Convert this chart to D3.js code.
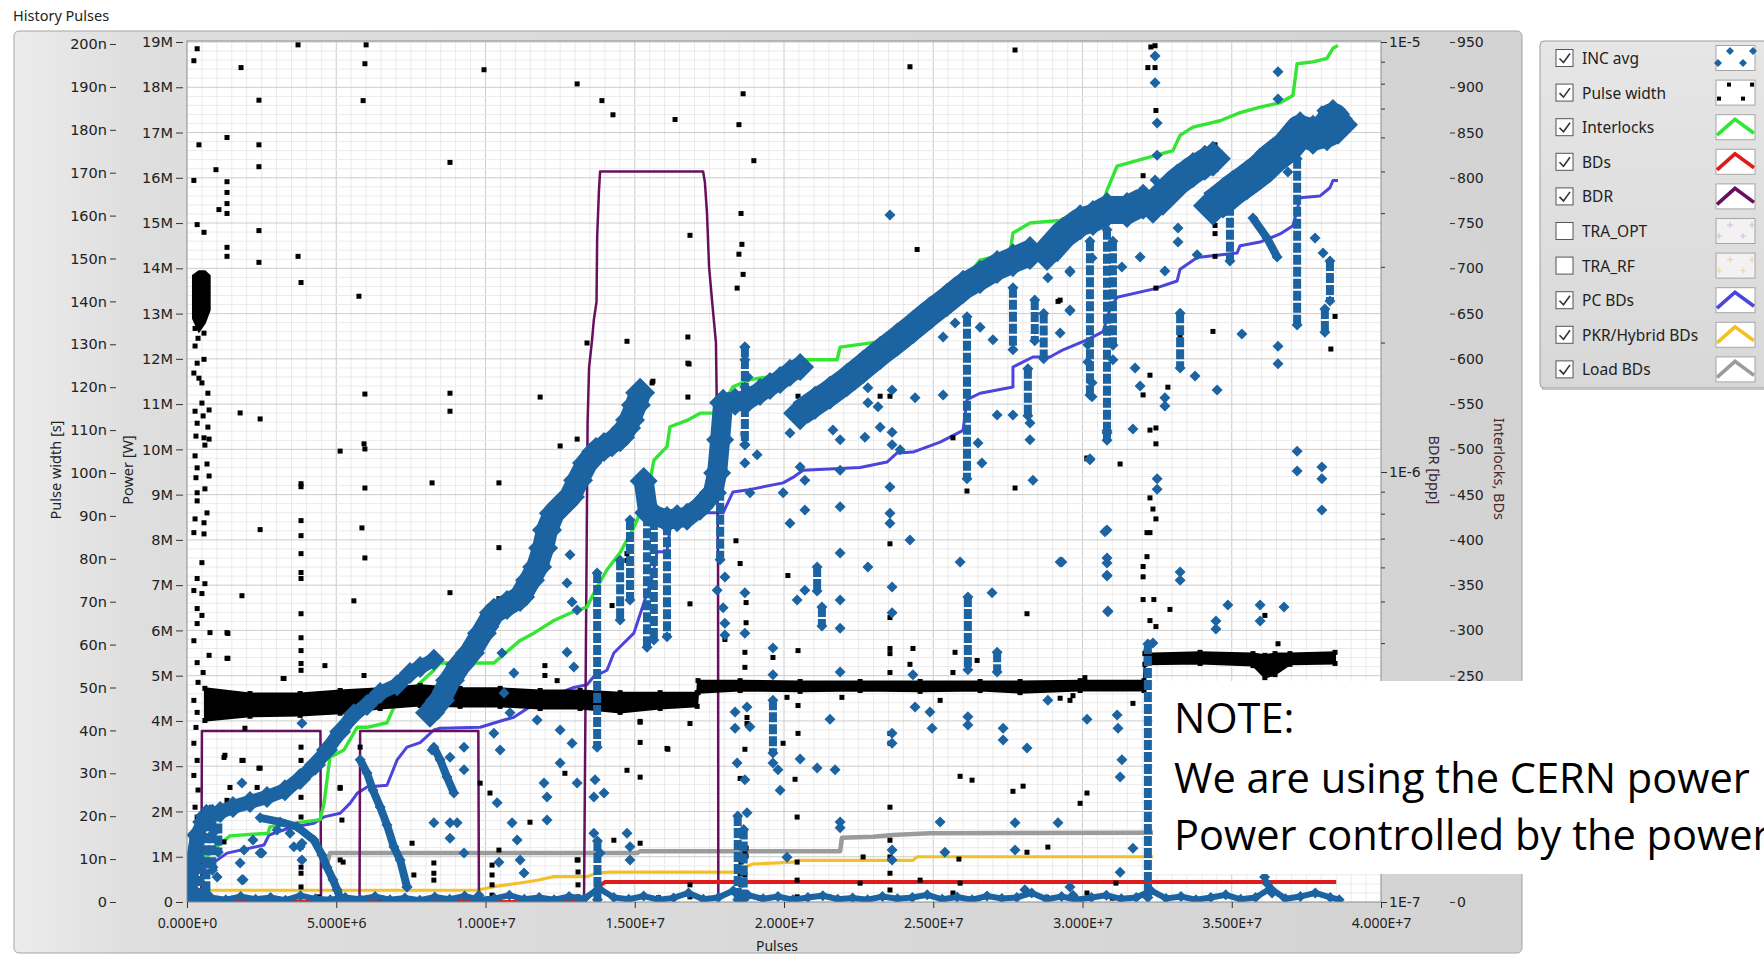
<!DOCTYPE html>
<html>
<head>
<meta charset="utf-8">
<title>History Pulses</title>
<script src="https://cdn.jsdelivr.net/npm/d3@7"></script>
<style>
  body { margin: 0; background: #fff; overflow: hidden; }
  svg { display: block; }
</style>
</head>
<body>
<script>
// pulses are in millions, power in MW, pulse width in ns

const pulseTicks = [0, 5, 10, 15, 20, 25, 30, 35, 40];
const powerTicks = [0, 1, 2, 3, 4, 5, 6, 7, 8, 9, 10, 11, 12, 13, 14, 15, 16, 17, 18, 19];
const pulseWidthTicks = [0, 10, 20, 30, 40, 50, 60, 70, 80, 90, 100, 110, 120, 130, 140, 150, 160, 170, 180, 190, 200];
const countTicks = [0, 50, 100, 150, 200, 250, 300, 350, 400, 450, 500, 550, 600, 650, 700, 750, 800, 850, 900, 950];
const bdrTicks = [1e-7, 1e-6, 1e-5];
const bdrMinorTicks = [2e-7, 3e-7, 4e-7, 5e-7, 6e-7, 7e-7, 8e-7, 9e-7, 2e-6, 3e-6, 4e-6, 5e-6, 6e-6, 7e-6, 8e-6, 9e-6];

const legendNames = ['INC avg', 'Pulse width', 'Interlocks', 'BDs', 'BDR', 'TRA_OPT', 'TRA_RF', 'PC BDs', 'PKR/Hybrid BDs', 'Load BDs'];
const legendChecked = [true, true, true, true, true, false, false, true, true, true];

const noteLines = ['NOTE:', 'We are using the CERN power', 'Power controlled by the power'];

// step lines (counts on the Interlocks, BDs axis)
const interlocks = [[0.5,45],[1.0,61],[1.44,73],[2.71,76],[2.78,83],[3.79,88],[4.46,91],[4.59,109],[4.79,160],[5.26,168],[5.70,193],[6.03,193],[6.70,198],[6.93,215],[8.27,256],[8.48,264],[10.28,264],[11.16,289],[11.62,297],[12.29,311],[12.83,319],[13.40,326],[13.74,348],[14.07,367],[14.51,386],[14.97,414],[15.41,447],[15.64,488],[16.08,503],[16.18,525],[16.75,532],[17.19,540],[17.86,540],[18.02,554],[18.29,569],[18.86,577],[19.87,582],[20.54,599],[21.78,599],[21.88,613],[23.22,619],[23.79,635],[24.56,657],[25.80,662],[26.23,695],[26.57,709],[27.57,717],[27.67,739],[28.24,750],[29.25,753],[30.69,773],[30.82,786],[31.16,813],[32.03,821],[33.03,830],[33.27,847],[33.70,856],[34.61,863],[35.28,872],[35.95,878],[36.62,883],[37.05,891],[37.19,926],[37.72,928],[38.19,932],[38.39,943],[38.56,946]];
const bds = [[0,0],[13.29,0],[13.70,15],[14.00,22],[38.50,22]];
const pcBds = [[0.5,35],[1.0,46],[1.34,54],[2.58,63],[2.75,74],[3.45,82],[4.25,87],[4.59,94],[5.13,98],[5.46,109],[5.70,120],[6.03,127],[6.70,129],[7.04,157],[7.37,171],[7.81,176],[8.27,190],[8.48,192],[9.82,193],[10.62,201],[10.95,204],[11.83,223],[12.96,237],[13.40,240],[13.63,249],[14.07,256],[14.30,275],[14.51,282],[14.97,297],[15.08,308],[15.60,360],[15.75,387],[16.08,387],[16.25,430],[17.96,430],[18.29,453],[18.76,455],[19.97,463],[20.30,469],[20.64,477],[22.55,480],[23.45,486],[23.79,496],[24.32,497],[25.23,508],[26.00,521],[26.13,555],[26.57,562],[27.67,569],[27.67,591],[28.34,602],[28.91,602],[29.35,610],[30.15,621],[30.69,630],[30.92,655],[31.16,668],[32.36,677],[33.17,686],[33.27,699],[33.84,712],[35.18,717],[35.28,725],[35.95,729],[36.62,738],[37.05,747],[37.19,764],[37.29,778],[37.96,780],[38.29,789],[38.39,797],[38.56,797]];
const pkrBds = [[0.67,13],[9.72,13],[10.28,17],[11.16,21],[11.73,24],[12.29,28],[13.40,28],[13.74,32],[14.17,33],[18.43,33],[18.63,38],[18.96,42],[20.30,44],[20.44,46],[24.32,46],[24.46,50],[38.60,50]];
const loadBds = [[4.69,43],[4.79,54],[15.08,54],[15.18,56],[21.88,56],[21.94,71],[22.98,72],[23.65,74],[24.89,76],[38.60,77]];

// breakdown rate (bpp), 0 = no breakdowns in window
const bdr = [[0,0],[0.48,0],[0.50,2.5e-7],[4.47,2.5e-7],[4.49,0],[5.78,0],[5.80,2.5e-7],[9.76,2.5e-7],[9.78,0],[13.30,0],[13.42,1.3e-6],[13.47,1.75e-6],[13.57,2.03e-6],[13.63,2.26e-6],[13.72,2.49e-6],[13.74,3.5e-6],[13.80,4.5e-6],[13.84,5.0e-6],[17.29,5.0e-6],[17.35,4.72e-6],[17.42,4.0e-6],[17.49,3.0e-6],[17.59,2.5e-6],[17.72,2.0e-6],[17.76,1.25e-6],[17.79,6.2e-7],[17.80,0]];

// INC avg: dense runs of points (MW)
const incRunA = [[0.10,0.15],[0.20,0.93],[0.34,1.48],[0.54,1.77],[0.77,1.92],[1.11,1.99],[1.54,2.10],[2.11,2.21],[2.68,2.32],[3.28,2.47],[3.79,2.72],[4.29,3.03],[4.69,3.36],[5.13,3.76],[5.59,4.15],[6.03,4.35],[6.47,4.62],[7.04,4.79],[7.47,5.06],[7.81,5.19],[8.27,5.35]];
const incRunB = [[8.14,4.18],[8.48,4.46],[8.81,4.90],[9.15,5.24],[9.48,5.50],[9.88,5.94],[10.28,6.39],[10.72,6.56],[11.16,6.74],[11.49,7.11],[11.73,7.40],[11.93,7.82],[12.06,8.22],[12.29,8.59],[12.56,8.77],[12.83,8.95],[13.10,9.32],[13.40,9.70],[13.70,9.94],[13.97,10.05],[14.24,10.16],[14.51,10.27],[14.71,10.47],[14.84,10.65],[15.04,10.98],[15.18,11.25]];
const incRunC = [[15.30,9.30],[15.45,8.60],[15.64,8.55],[16.08,8.44],[16.42,8.48],[16.75,8.51],[17.19,8.73],[17.62,9.04],[17.76,9.48],[17.86,10.21],[17.96,11.03],[18.36,11.05],[18.76,11.09],[19.20,11.27],[19.53,11.40],[19.87,11.53],[20.20,11.69],[20.54,11.82]];
const incRunD = [[20.54,10.80],[21.04,11.03],[21.54,11.25],[22.11,11.53],[22.65,11.82],[23.22,12.13],[23.79,12.42],[24.32,12.70],[24.89,13.01],[25.46,13.30],[26.00,13.59],[26.57,13.81],[27.14,14.03],[27.67,14.18],[28.24,14.34]];
const incRunE = [[28.81,14.34],[29.35,14.74],[29.92,15.02],[30.35,15.11],[30.82,15.29],[31.49,15.29],[32.03,15.47]];
const incRunF = [[32.36,15.38],[32.76,15.64],[33.17,15.91],[33.70,16.17],[34.10,16.33],[34.37,16.42]];
const incRunG = [[34.37,15.38],[34.71,15.55],[35.04,15.73],[35.51,15.95],[35.95,16.17],[36.38,16.44],[36.85,16.68],[37.29,17.03],[37.72,16.95],[38.19,17.03],[38.39,17.30],[38.56,17.17]];
const incStreaks = [
  [[2.45,1.86],[3.12,1.77],[3.69,1.66],[4.25,1.37],[4.52,1.04],[4.69,0.77],[4.89,0.49],[5.03,0.27],[5.13,0.09]],
  [[5.80,3.14],[6.03,2.85],[6.23,2.47],[6.47,2.10],[6.70,1.70],[6.93,1.22],[7.14,0.93],[7.37,0.33]],
  [[8.27,3.42],[8.48,3.14],[8.71,2.76],[8.94,2.41]],
  [[35.71,15.11],[36.18,14.67],[36.52,14.25]]
];
// INC avg: vertical columns [pulses, top MW, bottom MW]
const incColumns = [[0.10,0.8,0.0],[0.25,1.4,0.0],[0.45,1.9,0.0],[0.65,2.05,0.2],[0.85,2.05,0.7],[1.05,2.0,1.1],
  [13.74,7.27,3.42],[14.51,7.55,6.23],[14.84,8.44,6.67],[15.41,9.32,5.63],[15.64,8.44,5.79],[16.08,8.59,5.86],[13.75,1.35,0.05],
  [17.86,10.94,7.56],[18.45,1.9,0.05],[18.65,1.6,0.05],[18.69,12.26,10.10],[19.63,4.46,3.29],[21.11,7.40,6.87],[21.27,6.52,6.10],
  [26.13,12.93,9.35],[26.16,6.74,5.13],[27.14,5.52,5.08],[27.67,13.57,12.20],[28.17,11.78,10.74],[28.40,13.30,12.40],[28.70,13.00,12.00],
  [30.25,14.60,11.20],[30.82,14.85,10.20],[31.02,14.60,12.30],[32.19,5.70,0.10],[33.27,13.01,11.80],[34.94,15.38,14.16],[37.19,16.42,12.75],[38.12,13.10,12.59],[38.29,14.16,13.28]];
// INC avg: isolated points
const incPoints = [[12.83,7.67],[12.73,7.05],[12.90,6.63],[13.07,6.45],[12.73,5.52],[12.96,5.19],[12.50,3.80],[12.90,3.51],[12.50,3.07],[13.07,2.63],[13.67,2.70],[13.63,2.32],[13.97,2.41],[13.63,1.52],[13.84,1.08],[14.74,1.52],[14.84,1.22],[14.84,0.93],
  [8.21,3.36],[8.81,3.20],[9.28,3.42],[9.28,2.92],[8.81,1.75],[9.05,1.75],[8.81,1.41],[9.28,1.08],[8.27,1.75],
  [10.28,3.73],[10.49,3.36],[10.39,2.19],[10.89,1.75],[11.06,1.37],[11.16,0.93],[11.29,0.64],[10.45,0.88],[11.96,2.63],[12.06,2.32],[12.06,1.81],
  [1.91,1.15],[1.78,0.86],[1.84,0.49],[2.51,1.08],[3.58,1.22],[3.85,1.30],[3.85,0.93],[7.37,0.33],[9.78,0.15],
  [10.45,6.45],[10.28,6.08],[10.55,5.50],[10.95,5.06],[10.62,4.62],[10.82,4.18],[11.73,4.02],
  [1.84,2.63],[3.85,3.95],[0.87,1.52],[2.21,1.37],[2.45,1.08],[1.88,0.49],[0.87,0.77],[1.01,0.55],[3.45,1.52],[3.79,1.22],[3.02,1.59],
  [18.69,12.26],[18.69,11.98],[18.69,11.38],[18.79,11.60],[19.10,9.88],[18.69,9.70],[18.69,10.10],[18.86,9.04],[20.20,10.36],[20.54,9.61],[20.70,9.32],[20.70,8.66],[20.20,8.37],[19.97,9.04],[21.64,10.43],[21.88,10.21],[21.88,9.54],[21.88,8.73],[21.88,7.71],[22.81,11.36],[22.81,11.03],[23.15,10.94],[22.71,10.27],[23.22,10.49],[23.62,10.38],[23.62,10.10],[23.89,9.99],[23.55,9.17],[23.55,8.59],[23.55,8.37],[24.39,11.14],[25.33,11.20],[24.22,8.00],[23.62,11.31],[25.73,12.79],[25.33,12.48],[23.55,15.18],
  [26.57,12.70],[27.00,12.42],[27.14,10.76],[27.67,10.76],[26.50,10.14],[26.63,9.70],[28.34,9.32],[28.24,10.58],[28.24,10.21],
  [28.84,13.79],[29.58,13.92],[30.32,14.23],[29.58,13.08],[30.18,12.31],[30.18,11.93],[30.32,11.47],[30.32,11.16],[30.82,10.36],[30.25,9.77],[30.75,8.18],[29.25,12.57],[31.02,11.98],[31.32,14.03],
  [32.43,18.69],[32.43,18.10],[32.50,17.21],[32.50,16.50],[32.43,15.95],[36.55,18.34],[36.55,17.74],[38.02,17.48],[35.95,16.55],[36.88,16.13],[37.79,14.67],[38.06,14.34],[29.58,13.94],[29.58,13.06],[31.93,14.25],[32.76,13.94],[33.84,14.30],[33.20,14.89],[33.20,14.58],[35.34,12.55],[36.55,12.28],[36.55,11.89],[31.76,11.80],[31.93,11.40],[32.76,11.14],[32.76,10.96],[33.77,11.62],[34.51,11.31],[30.82,10.41],[31.69,10.45],[30.25,9.79],[32.50,9.35],[32.50,9.12],[37.19,9.96],[37.19,9.52],[38.02,9.61],[38.02,9.35],[38.02,8.66],[30.82,8.22],[30.82,7.60],[30.82,7.20],[29.31,7.51],[33.27,7.29],[33.27,7.11],[30.85,6.43],[34.87,6.56],[35.95,6.56],[35.95,6.21],[36.75,6.52],[34.47,6.21],[34.47,6.03],[32.36,5.72],
  [18.02,7.18],[17.76,6.89],[17.96,6.50],[18.02,6.16],[18.02,5.90],[18.69,6.83],[18.69,5.94],[19.63,5.61],[19.63,5.02],[18.43,3.07],[18.69,2.70],[18.76,1.97],[18.36,4.20],[18.36,3.84],[18.76,4.31],[18.86,3.87],[19.87,2.47],[19.63,3.07],[19.80,2.92],[20.10,0.99],[20.44,6.67],[20.70,6.89],[21.88,6.67],[21.88,6.05],[21.88,5.08],[21.54,4.04],[20.54,3.16],[21.11,2.96],[21.71,2.92],[21.88,1.77],[21.88,1.64],[22.81,7.40],[23.62,6.96],[23.62,6.39],[23.62,3.73],[23.62,3.51],[23.62,1.15],[23.62,0.93],[24.32,5.02],[24.39,4.31],[24.89,4.20],[24.96,3.84],[25.23,1.77],[25.39,1.10],[25.90,7.51],[26.16,4.09],[26.16,3.91],[26.97,6.83],[27.34,3.84],[27.34,3.58],[28.14,3.40],[27.74,1.75],[27.74,1.15],[28.84,4.46],[29.18,1.75],[29.25,7.51],[30.15,4.04],[30.82,7.49],[30.82,7.22],[30.85,6.41],[31.16,4.13],[31.19,3.84],[31.32,3.14],[31.26,2.76],[31.26,0.66],[31.69,1.19],[29.58,0.33],[29.68,0.15],[28.07,0.27],
  [36.10,0.55],[36.20,0.40],[36.35,0.20]];
// INC avg: floor row near zero power
const incFloor = [[0.3,0.05],[0.8,0.10],[1.3,0.05],[1.8,0.12],[2.3,0.06],[2.8,0.10],[3.3,0.04],[3.8,0.14],[4.3,0.07],[4.8,0.05],[5.3,0.10],[5.8,0.06],[6.3,0.12],[6.8,0.05],[7.3,0.09],[7.8,0.04],[8.3,0.11],[8.8,0.06],[9.3,0.13],[9.8,0.05],[10.3,0.08],[10.8,0.15],[11.3,0.06],[11.8,0.10],[12.3,0.05],[12.8,0.12],[13.3,0.07],[13.8,0.30],[14.3,0.10],[14.8,0.06],[15.3,0.13],[15.8,0.05],[16.3,0.09],[16.8,0.20],[17.3,0.06],[17.8,0.10],[18.3,0.25],[18.8,0.15],[19.3,0.07],[19.8,0.12],[20.3,0.05],[20.8,0.10],[21.3,0.14],[21.8,0.06],[22.3,0.09],[22.8,0.05],[23.3,0.12],[23.8,0.07],[24.3,0.10],[24.8,0.16],[25.3,0.06],[25.8,0.11],[26.3,0.05],[26.8,0.13],[27.3,0.08],[27.8,0.10],[28.3,0.20],[28.8,0.06],[29.3,0.12],[29.8,0.05],[30.3,0.10],[30.8,0.15],[31.3,0.07],[31.8,0.10],[32.3,0.25],[32.8,0.08],[33.3,0.12],[33.8,0.05],[34.3,0.10],[34.8,0.16],[35.3,0.06],[35.8,0.10],[36.3,0.30],[36.8,0.07],[37.3,0.12],[37.8,0.20],[38.3,0.10],[38.6,0.05]];

// Pulse width: dense band [pulses, low ns, high ns]
const pulseWidthBand = [[0.60,42.3,49.8],[2.11,43.3,48.6],[3.79,43.5,48.6],[5.13,44.0,49.3],[6.47,45.1,49.8],[7.81,45.8,50.5],[9.15,45.6,49.8],[10.49,45.6,49.8],[11.83,45.1,49.3],[13.17,45.1,49.3],[14.51,44.2,48.8],[15.85,45.1,48.8],[17.09,45.6,48.8],[17.12,48.8,51.6],[18.53,49.3,51.6],[20.54,49.1,51.4],[22.55,49.3,51.4],[24.56,49.1,51.4],[26.57,49.3,51.4],[27.91,48.8,51.4],[29.92,49.3,51.6],[32.06,49.3,51.6],[32.09,55.4,57.9],[33.94,55.6,58.2],[35.71,55.1,57.9],[36.11,52.3,57.5],[36.45,53.0,57.9],[36.95,55.4,57.9],[38.46,55.6,58.2]];
const pulseWidthCluster = [[0.20,136,146],[0.40,133,147],[0.60,135,147],[0.76,138,146]];
// Pulse width: isolated points [pulses, ns]
const pulseWidthPoints = [
  [0.34,198.9],[0.23,196.1],[1.81,194.5],[6.00,199.8],[2.41,186.9],[5.96,195.4],[1.34,178.2],[0.40,176.5],[2.41,176.5],[0.97,170.7],[2.41,171.4],[0.23,168.2],[1.34,167.9],[1.34,165.4],[1.07,161.4],[1.34,162.8],[1.34,160.5],[0.34,157.9],[0.57,156.1],[2.41,156.5],[1.34,152.6],[1.34,150.5],[3.72,150.5],[2.41,149.1],[3.82,144.4],[5.76,141.2],
  [3.72,199.8],[5.90,186.8],[9.95,194.0],[13.07,190.7],[13.90,186.8],[14.27,183.5],[16.35,182.4],[8.81,172.4],[18.63,188.4],[18.49,181.2],[18.99,172.8],[24.22,194.7],[27.74,198.6],[32.29,199.3],[16.85,155.4],[18.56,160.5],[18.59,153.3],[18.49,151.0],[18.63,146.3],[18.43,143.1],[24.46,152.1],[16.78,131.7],[16.78,125.6],[16.78,117.7],[18.63,109.1],[20.47,117.9],[23.22,117.9],[23.55,117.9],[25.66,108.2],[29.18,140.0],[26.13,95.8],[27.74,96.5],[30.15,103.3],[31.26,102.1],[23.55,83.5],[18.39,84.2],[11.83,117.7],[13.40,130.3],[14.74,130.7],[15.61,121.4],[16.82,125.4],
  [5.96,118.4],[8.81,118.6],[8.81,114.4],[15.58,121.0],[1.78,114.0],[2.45,112.6],[5.13,105.1],[5.93,106.8],[5.96,105.6],[12.50,106.3],[13.07,107.9],[8.21,97.7],[10.45,97.7],[5.96,96.5],[5.86,87.2],[2.45,86.8],[5.96,80.2],[10.45,82.6],[1.84,71.4],[5.59,70.2],[8.81,72.1],[1.34,62.8],[1.34,56.8],[4.62,55.1],[3.25,52.1],[5.93,52.8],[14.74,81.2],[14.74,79.6],[14.24,69.1],[10.45,70.7],[12.40,51.6],[16.08,35.8],[15.18,37.2],[15.18,41.9],[14.74,30.7],[14.30,14.4],[15.18,13.7],[13.07,9.8],[10.45,12.1],[12.66,30.0],[11.49,18.6],[9.82,27.7],[10.15,25.4],[5.13,9.8],[5.13,26.7],[5.19,19.1],[5.80,36.1],[7.54,13.7],[7.60,6.3],[1.24,33.7],[1.84,33.0],[2.41,31.2],[1.44,26.7],[2.35,26.7],[1.34,23.7],[1.24,14.0],[1.94,40.5],[5.23,9.3],
  [3.82,97.5],[3.82,96.8],[3.82,88.9],[3.82,85.4],[3.82,81.2],[3.82,76.8],[3.82,75.4],[3.82,67.2],[3.82,61.6],[3.82,58.6],[3.82,55.6],[3.82,54.0],[3.82,36.1],[3.82,33.0],[3.82,28.4],[3.82,24.4],[3.82,19.8],[3.82,12.8],[3.82,9.8],[3.82,8.1],[3.82,6.7],[3.82,3.5],[3.82,1.2],
  [0.27,137.0],[0.44,135.4],[0.27,133.7],[0.57,132.6],[0.37,131.4],[0.27,129.6],[0.57,126.5],[0.34,125.6],[0.23,123.3],[0.40,122.1],[0.50,121.0],[0.70,118.6],[0.50,116.3],[0.27,114.4],[0.74,114.7],[0.54,113.3],[0.34,111.6],[0.70,110.7],[0.30,108.6],[0.57,108.2],[0.74,107.9],[0.60,106.5],[0.27,104.0],[0.34,101.2],[0.67,102.1],[0.30,98.9],[0.74,99.3],[0.34,95.4],[0.60,96.3],[0.34,93.5],[0.67,90.7],[0.27,89.3],[0.57,88.4],[0.23,86.1],[0.57,85.8],[0.50,79.1],[0.34,75.4],[0.60,74.2],[0.23,72.6],[0.50,71.9],[0.34,68.4],[0.50,66.8],[0.34,64.9],[0.77,62.8],[0.23,60.9],[0.74,57.5],[0.34,55.8],[0.54,53.5],[0.37,51.2],[0.23,47.0],[0.34,44.2],[0.30,40.7],[0.23,37.0],[0.34,33.0],[0.23,29.5],[0.37,26.1],[0.27,22.1],[0.34,19.8],[0.50,4.4],[1.37,62.6],[1.37,56.8],[1.27,34.2],[1.88,33.0],[2.45,31.2],[3.22,52.1],[5.13,26.5],
  [32.43,199.6],[32.19,194.5],[32.43,194.5],[32.46,184.5],[32.03,169.3],[34.44,176.5],[34.44,165.1],[34.44,157.7],[34.44,155.8],[34.44,150.5],[32.46,143.1],[29.25,140.3],[34.37,133.0],[33.27,132.1],[33.27,127.9],[32.26,122.8],[32.86,120.0],[32.03,118.2],[32.26,110.0],[32.46,110.5],[32.46,106.8],[30.15,103.5],[32.26,94.2],[32.36,91.6],[32.46,89.3],[32.16,86.1],[32.26,86.1],[32.16,80.5],[32.03,78.2],[32.03,75.8],[32.03,70.5],[32.39,70.5],[32.93,68.2],[32.26,65.6],[32.46,64.2],[32.13,58.4],[36.55,60.2],[36.11,66.8],[38.46,136.5],[38.32,128.9],
  [18.53,78.9],[20.13,76.1],[16.85,69.5],[18.73,69.8],[18.73,65.1],[18.02,61.2],[23.55,66.3],[28.14,67.2],[18.69,58.2],[20.47,58.6],[19.63,57.0],[23.55,59.1],[23.55,57.9],[24.32,59.1],[25.73,58.2],[26.47,56.3],[24.22,55.4],[25.66,53.5],[18.69,54.7],[30.08,52.3],[23.55,53.5],
  [16.85,41.6],[18.76,43.0],[18.76,41.6],[19.97,37.0],[20.47,39.3],[16.11,35.6],[18.69,35.6],[23.55,39.3],[23.55,37.0],[20.37,28.6],[18.53,28.8],[25.90,29.3],[26.30,28.4],[27.67,25.8],[28.01,27.0],[30.15,25.4],[29.92,23.0],[23.55,22.1],[20.44,19.8],[28.14,11.6],[28.84,12.8],[25.86,10.0],[22.65,10.5],[18.73,12.6],[18.73,10.7],[18.53,6.7],[24.56,5.1],[25.90,4.4],[25.66,2.1],[22.55,4.4],[30.15,2.1],[31.12,4.4],[31.69,46.3],[29.25,47.5],[29.58,47.0],[29.68,48.1],[28.84,47.0],[25.23,47.0],[21.94,47.7],[20.47,45.8],[20.10,47.7],[15.18,42.1],[15.18,29.1],[16.85,4.0],[16.85,1.2],[20.44,9.3],[20.44,5.1],[20.44,1.2],[23.55,14.4],[23.55,10.5],[23.55,6.7],[23.55,2.8],[18.69,11.4],[18.69,6.3],[18.69,2.1],
  [8.27,9.1],[8.27,6.7],[8.27,5.1],[10.22,8.6],[10.22,6.3],[10.22,4.0],[10.22,1.6],[11.99,55.1],[11.99,52.8],[13.10,9.8],[13.10,7.0],[13.10,4.0],[13.10,1.2],[18.56,9.3],[18.56,6.7],[18.56,4.0],[18.56,1.6],
  [2.0,1.0],[3.0,0.8],[4.4,1.2],[6.5,0.9],[9.3,1.1],[12.0,0.8],[15.8,1.0],[19.2,0.9],[21.5,1.2],[26.5,0.8],[28.8,1.1],[31.0,0.9]
];

const colors = {
  inc: '#1c63a2', pw: '#000000', interlocks: '#33e633', bds: '#dd1c1c', bdr: '#66105f',
  traOpt: '#c9bde3', traRf: '#e6d4a6', pc: '#4c44dc', pkr: '#f2c12a', load: '#9b9b9b'
};

const render = () => {
  const width = 1764;
  const height = 955;
  const plot = { left: 187, right: 1381, top: 41, bottom: 902 };

  const svg = d3.select('body').append('svg')
    .attr('width', width)
    .attr('height', height)
    .style('font-family', '"Noto Sans", "DejaVu Sans", sans-serif');

  const defs = svg.append('defs');
  const panelGrad = defs.append('linearGradient').attr('id', 'panelGrad').attr('x1', 0).attr('x2', 1).attr('y1', 0).attr('y2', 0);
  panelGrad.append('stop').attr('offset', '0%').attr('stop-color', '#ececec');
  panelGrad.append('stop').attr('offset', '8%').attr('stop-color', '#dedede');
  panelGrad.append('stop').attr('offset', '100%').attr('stop-color', '#d3d3d3');
  const legendGrad = defs.append('linearGradient').attr('id', 'legendGrad').attr('x1', 0).attr('x2', 0).attr('y1', 0).attr('y2', 1);
  legendGrad.append('stop').attr('offset', '0%').attr('stop-color', '#e6e6e6');
  legendGrad.append('stop').attr('offset', '100%').attr('stop-color', '#d8d8d8');
  defs.append('clipPath').attr('id', 'plotClip')
    .append('rect').attr('x', plot.left).attr('y', plot.top)
    .attr('width', plot.right - plot.left).attr('height', plot.bottom - plot.top);

  // Title and panel
  svg.append('text').attr('x', 13).attr('y', 21).attr('font-size', 14.5).attr('fill', '#222').text('History Pulses');
  svg.append('rect').attr('x', 14).attr('y', 31).attr('width', 1508).attr('height', 922).attr('rx', 5)
    .attr('fill', 'url(#panelGrad)').attr('stroke', '#a3a3a3');

  // Scales
  const x = d3.scaleLinear().domain([0, 40]).range([plot.left, plot.right]);
  const yPower = d3.scaleLinear().domain([0, 19]).range([902, 42]);
  const yPw = d3.scaleLinear().domain([0, 200]).range([902, 44]);
  const yCount = d3.scaleLinear().domain([0, 950]).range([902, 42]);
  const yBdr = d3.scaleLog().domain([1e-7, 1e-5]).range([902, 42]);
  const bdrY = v => v > 0 ? yBdr(v) : plot.bottom;

  // Plot background and grid
  svg.append('rect').attr('x', plot.left).attr('y', plot.top)
    .attr('width', plot.right - plot.left).attr('height', plot.bottom - plot.top).attr('fill', '#fff');
  const grid = svg.append('g').attr('clip-path', 'url(#plotClip)');
  grid.selectAll('.vminor').data(d3.range(0.5, 40, 0.5)).enter().append('line')
    .attr('x1', d => x(d)).attr('x2', d => x(d)).attr('y1', plot.top).attr('y2', plot.bottom)
    .attr('stroke', d => d % 5 === 0 ? '#cccccc' : '#ebebeb').attr('stroke-width', 1);
  grid.selectAll('.hminor').data(d3.range(0.2, 19.01, 0.2)).enter().append('line')
    .attr('y1', d => yPower(d)).attr('y2', d => yPower(d)).attr('x1', plot.left).attr('x2', plot.right)
    .attr('stroke', d => Math.abs(d - Math.round(d)) < 0.01 ? '#cccccc' : '#ebebeb').attr('stroke-width', 1);

  const chart = svg.append('g').attr('clip-path', 'url(#plotClip)');

  const countLine = d3.line().x(d => x(d[0])).y(d => yCount(d[1]));
  const drawLine = (data, color, w, line) => {
    chart.append('path').datum(data).attr('d', line).attr('fill', 'none')
      .attr('stroke', color).attr('stroke-width', w).attr('stroke-linejoin', 'round');
  };
  drawLine(loadBds, colors.load, 4.5, countLine);
  drawLine(pkrBds, colors.pkr, 3.2, countLine);
  drawLine(pcBds, colors.pc, 3, countLine);
  drawLine(bdr, colors.bdr, 2.5, d3.line().x(d => x(d[0])).y(d => bdrY(d[1])));
  drawLine(bds, colors.bds, 4, countLine);
  drawLine(interlocks, colors.interlocks, 3.4, countLine);

  // Pulse width
  const pwArea = d3.area().x(d => x(d[0])).y0(d => yPw(d[1])).y1(d => yPw(d[2]));
  [pulseWidthBand, pulseWidthCluster].forEach(band => {
    chart.append('path').datum(band).attr('d', pwArea).attr('fill', colors.pw)
      .attr('stroke', colors.pw).attr('stroke-width', 2);
  });
  const edgeSquares = [].concat(pulseWidthBand.map(d => [d[0], d[1]]), pulseWidthBand.map(d => [d[0], d[2]]));
  chart.selectAll('.pw').data(pulseWidthPoints.concat(edgeSquares)).enter().append('rect')
    .attr('x', d => x(d[0]) - 2.5).attr('y', d => yPw(d[1]) - 2.5)
    .attr('width', 5).attr('height', 5).attr('fill', colors.pw);

  // INC avg
  const diamond = h => `M0,${-h}L${h},0L0,${h}L${-h},0Z`;
  const powerLine = d3.line().x(d => x(d[0])).y(d => yPower(d[1]));
  const runs = [incRunA, incRunB, incRunC, incRunD, incRunE, incRunF, incRunG];
  const runWidths = [14, 22, 20, 26, 28, 28, 32];
  runs.forEach((run, i) => {
    chart.append('path').datum(run).attr('d', powerLine).attr('fill', 'none')
      .attr('stroke', colors.inc).attr('stroke-width', runWidths[i])
      .attr('stroke-linejoin', 'round');
    chart.selectAll(null).data(run).enter().append('path')
      .attr('d', diamond(runWidths[i] / 2 + 4))
      .attr('transform', d => `translate(${x(d[0])},${yPower(d[1])})`)
      .attr('fill', colors.inc);
  });
  incStreaks.forEach(run => {
    chart.append('path').datum(run).attr('d', powerLine).attr('fill', 'none')
      .attr('stroke', colors.inc).attr('stroke-width', 8).attr('stroke-linejoin', 'round');
  });
  chart.append('path').datum(incFloor).attr('d', powerLine).attr('fill', 'none')
    .attr('stroke', colors.inc).attr('stroke-width', 6);
  chart.selectAll('.col').data(incColumns).enter().append('line')
    .attr('x1', d => x(d[0])).attr('x2', d => x(d[0]))
    .attr('y1', d => yPower(d[1])).attr('y2', d => yPower(d[2]))
    .attr('stroke', colors.inc).attr('stroke-width', 8).attr('stroke-dasharray', '10 2');
  const smallDiamonds = [].concat(...incStreaks, incFloor, incPoints,
    incColumns.map(d => [d[0], d[1]]), incColumns.map(d => [d[0], d[2]]));
  chart.selectAll('.inc').data(smallDiamonds).enter().append('path')
    .attr('d', diamond(5.5))
    .attr('transform', d => `translate(${x(d[0])},${yPower(d[1])})`)
    .attr('fill', colors.inc);

  // Plot border
  svg.append('rect').attr('x', plot.left).attr('y', plot.top)
    .attr('width', plot.right - plot.left).attr('height', plot.bottom - plot.top)
    .attr('fill', 'none').attr('stroke', '#8c8c8c');

  // Axes
  const styleAxis = (g, font, size) => {
    g.select('.domain').remove();
    g.selectAll('line').attr('stroke', '#333');
    g.selectAll('text').attr('fill', '#222').style('font-family', font).attr('font-size', size);
  };
  const dejavu = '"DejaVu Sans", sans-serif';
  const noto = '"Noto Sans", sans-serif';

  svg.append('g').attr('transform', 'translate(116,0)')
    .call(d3.axisLeft(yPw).tickValues(pulseWidthTicks).tickSize(6).tickPadding(3)
      .tickFormat(d => d === 0 ? '0' : d + 'n'))
    .call(g => styleAxis(g, dejavu, 14.5));
  svg.append('g').attr('transform', 'translate(183,0)')
    .call(d3.axisLeft(yPower).tickValues(powerTicks).tickSize(7).tickPadding(3)
      .tickFormat(d => d === 0 ? '0' : d + 'M'))
    .call(g => styleAxis(g, dejavu, 14.5));
  svg.append('g').attr('transform', `translate(0,${plot.bottom})`)
    .call(d3.axisBottom(x).tickValues(pulseTicks).tickSize(6).tickPadding(10)
      .tickFormat(d => (d * 1e6).toExponential(3).toUpperCase()))
    .call(g => styleAxis(g, noto, 14));
  svg.append('g').attr('transform', `translate(${plot.right},0)`)
    .call(d3.axisRight(yBdr).tickValues(bdrTicks).tickSize(6).tickPadding(2)
      .tickFormat(d => '1E' + Math.round(Math.log10(d))))
    .call(g => styleAxis(g, dejavu, 14));
  svg.append('g').attr('transform', `translate(${plot.right},0)`)
    .call(d3.axisRight(yBdr).tickValues(bdrMinorTicks).tickSize(4).tickFormat(''))
    .call(g => styleAxis(g, dejavu, 14));
  // labels 50..200 sit under the note overlay in the reference, so they are not drawn
  svg.append('g').attr('transform', 'translate(1450,0)')
    .call(d3.axisRight(yCount).tickValues(countTicks.filter(d => d === 0 || d > 200))
      .tickSize(5).tickPadding(2))
    .call(g => styleAxis(g, dejavu, 14));

  // Axis titles
  const title = (tx, ty, rot, text, fill) => svg.append('text')
    .attr('transform', `translate(${tx},${ty}) rotate(${rot})`)
    .attr('text-anchor', 'middle').attr('dominant-baseline', 'central')
    .attr('font-size', 14.5).attr('fill', fill).text(text);
  title(55, 470, -90, 'Pulse width [s]', '#222');
  title(127, 470, -90, 'Power [W]', '#222');
  title(1435, 470, 90, 'BDR [bpp]', '#3a2838');
  title(1500, 469, 90, 'Interlocks, BDs', '#44282a');
  svg.append('text').attr('x', 777).attr('y', 951).attr('text-anchor', 'middle')
    .attr('font-size', 14).attr('fill', '#222').text('Pulses');

  // Legend
  const legend = svg.append('g');
  legend.append('rect').attr('x', 1540).attr('y', 41).attr('width', 260).attr('height', 347).attr('rx', 4)
    .attr('fill', 'url(#legendGrad)').attr('stroke', '#9c9c9c');
  legend.append('line').attr('x1', 1542).attr('x2', 1800).attr('y1', 389).attr('y2', 389)
    .attr('stroke', '#c4c4c4').attr('stroke-width', 2);
  const rowY = i => 58 + i * 34.6;
  const rows = legend.selectAll('.row').data(legendNames).enter().append('g')
    .attr('transform', (d, i) => `translate(0,${rowY(i)})`);
  rows.append('rect').attr('x', 1556).attr('y', -8.5).attr('width', 17).attr('height', 17)
    .attr('fill', '#fff').attr('stroke', '#555');
  rows.filter((d, i) => legendChecked[i]).append('path')
    .attr('d', 'M1559.5,0.5L1563.5,4.5L1570,-4.5').attr('fill', 'none')
    .attr('stroke', '#333').attr('stroke-width', 1.6);
  rows.append('text').attr('x', 1582).attr('y', 0).attr('dominant-baseline', 'central')
    .attr('font-size', 15.5).attr('fill', '#222').text(d => d);
  rows.append('rect').attr('x', 1716).attr('y', -12.5).attr('width', 39).attr('height', 25)
    .attr('fill', (d, i) => legendChecked[i] ? '#fff' : '#f3f1f1').attr('stroke', '#a5a5a5');

  const swatchColors = [colors.inc, colors.pw, colors.interlocks, colors.bds, colors.bdr,
    colors.traOpt, colors.traRf, colors.pc, colors.pkr, colors.load];
  legendNames.forEach((name, i) => {
    const g = legend.append('g').attr('transform', `translate(1716,${rowY(i)})`);
    const c = swatchColors[i];
    if (i === 0) {
      [[14, -7], [37, -7], [2, 5], [27, 5]].forEach(p => g.append('path')
        .attr('d', 'M0,-4L4,0L0,4L-4,0Z').attr('transform', `translate(${p[0]},${p[1]})`).attr('fill', c));
    } else if (i === 1) {
      [[13, -8], [36, -8], [3, 6], [27, 6]].forEach(p => g.append('rect')
        .attr('x', p[0] - 2).attr('y', p[1] - 2).attr('width', 4).attr('height', 4).attr('fill', c));
    } else if (i === 5 || i === 6) {
      [[14, -6], [36, -6], [3, 5], [27, 5]].forEach(p => g.append('path')
        .attr('d', `M${p[0] - 3},${p[1]}H${p[0] + 3}M${p[0]},${p[1] - 3}V${p[1] + 3}`)
        .attr('stroke', c).attr('stroke-width', 1));
    } else {
      g.append('path').attr('d', 'M1,8L19,-8L38,6').attr('fill', 'none')
        .attr('stroke', c).attr('stroke-width', 3.6);
    }
  });

  // Note overlay
  svg.append('rect').attr('x', 1153).attr('y', 681).attr('width', 620).attr('height', 193).attr('fill', '#fff');
  const note = svg.selectAll('.note').data(noteLines).enter().append('text')
    .attr('x', 1174).attr('y', (d, i) => [733, 793, 850][i])
    .style('font-family', '"Open Sans", "Noto Sans", sans-serif')
    .attr('font-size', 40).attr('fill', '#000').text(d => d);
  const w = note.filter((d, i) => i === 1).node().getComputedTextLength();
  if (w > 0) note.attr('font-size', 40 * 576 / w);
};

render();
</script>
</body>
</html>
